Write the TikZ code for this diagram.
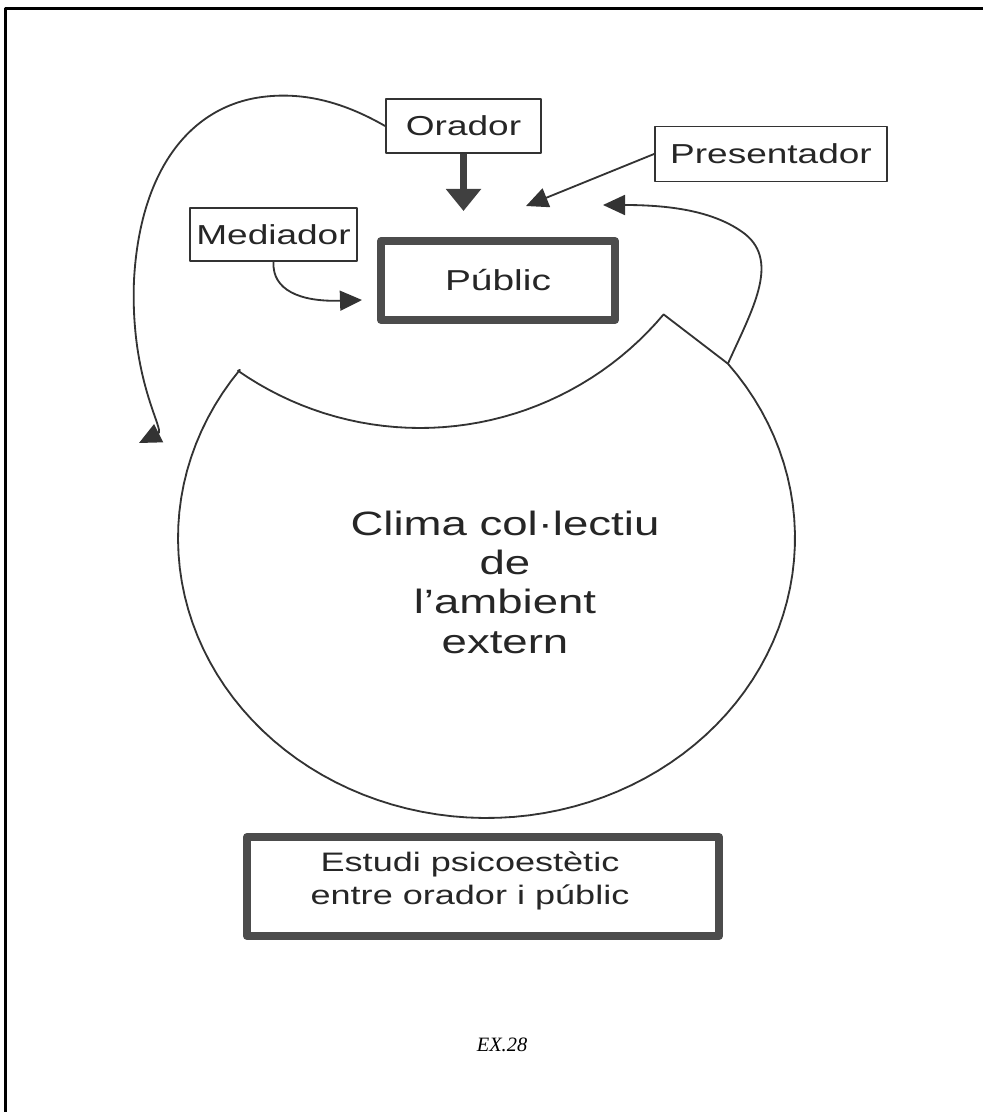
\documentclass[tikz,border=0pt]{standalone}
\usepackage{fontspec}
\usetikzlibrary{arrows.meta}
\setmainfont{Liberation Serif}
\newfontfamily\diagfont[FakeStretch=1.35]{Liberation Sans}

\begin{document}
\begin{tikzpicture}[x=0.025cm, y=-0.025cm, line join=round,
    labelbox/.style={draw=black!80, line width=1.3pt, inner sep=0pt, text=black!85,
      font=\diagfont\fontsize{19.5}{23}\selectfont},
    thickbox/.style={draw=black!70, line width=5.7pt, inner sep=0pt, text=black!85, align=center},
    linkarrow/.style={draw=black!80, line width=1.3pt, -{Triangle[length=0.55cm, width=0.5cm]}},
    bigarrow/.style={draw=black!75, line width=5pt, -{Triangle[length=0.55cm, width=0.85cm]}}]
    \useasboundingbox (0,0) rectangle (983,1112);
    % page frame
    \draw[line width=1.8pt] (983,8.5) -- (5.5,8.5) -- (5.5,1112);

    \node[labelbox, minimum width=3.875cm, minimum height=1.35cm] (orador) at (463.5,126) {Orador};
    \node[labelbox, minimum width=4.175cm, minimum height=1.325cm] (mediador) at (273.5,234.5) {Mediador};
    \node[labelbox, minimum width=5.8cm, minimum height=1.375cm] (presentador) at (771,154) {Presentador};
    \node[thickbox, minimum width=5.85cm, minimum height=1.975cm,
      font=\diagfont\fontsize{20.5}{24}\selectfont] (public) at (498,280.5) {Públic};

    % ambient: big round shape with a bite out of the top
    \draw[black!80, line width=1.3pt] plot[domain=-38.5:216.9, samples=90]
      ({486.5+308.5*cos(\x)},{538+280*sin(\x)})
      -- plot[domain=124.9:40, samples=40] ({420+318*cos(\x)},{110+318*sin(\x)}) -- cycle;
    \coordinate (junction) at (727.9,363.7);
    \node[align=center, text=black!85, font=\diagfont\fontsize{24}{28}\selectfont] (clima) at (505,582)
      {Clima col·lectiu\\de\\l’ambient\\extern};

    \coordinate (oradortip) at (463.5,211);
    \coordinate (presentadortip) at (526,206);
    \coordinate (climatip) at (603,205);
    \coordinate (mediadortip) at (362,300);
    \coordinate (oradorleft) at (139,443);

    \draw[bigarrow] (orador.south) -- (oradortip);
    \draw[linkarrow] (presentador.west) -- (presentadortip);
    \draw[linkarrow] (mediador.south) .. controls (272,290) and (300,302) .. (mediadortip);
    \draw[linkarrow] (junction) .. controls (752,310) and (780,262) .. (745,234)
      .. controls (715,211) and (670,205) .. (climatip);
    \draw[linkarrow] (orador.west) .. controls (340,100) and (300,92) .. (262,97)
      .. controls (190,106.5) and (140,170) .. (134,280)
      .. controls (130,380) and (165,430) .. (oradorleft);

    \node[thickbox, minimum width=11.8cm, minimum height=2.475cm] (estudi) at (483,886.5) {};
    \node[align=center, text=black!85, font=\diagfont\fontsize{19}{24}\selectfont] (estuditext) at (470,881)
      {Estudi psicoestètic\\entre orador i públic};
    \node[font=\itshape\fontsize{14.5}{17}\selectfont] (ex) at (502,1045) {EX.28};
\end{tikzpicture}
\end{document}
